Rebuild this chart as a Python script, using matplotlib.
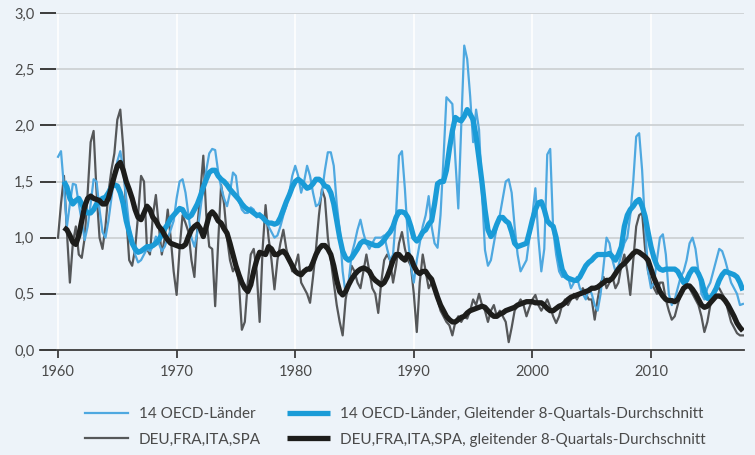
import numpy as np
import matplotlib
matplotlib.use("Agg")
import matplotlib.pyplot as plt

# Quarterly values, 1960Q1 .. 2017Q4
start_year = 1960

oecd14 = [
    1.72, 1.77, 1.45, 1.10,  1.30, 1.48, 1.47, 1.30,  1.15, 0.98, 1.10, 1.30,  1.52, 1.50, 1.25, 1.05,
    1.00, 1.15, 1.35, 1.55,  1.68, 1.77, 1.60, 1.35,  1.10, 0.95, 0.85, 0.78,  0.80, 0.85, 0.90, 0.88,
    0.92, 1.01, 0.95, 0.88,  0.92, 1.00, 1.07, 1.15,  1.35, 1.50, 1.52, 1.40,  1.20, 1.00, 0.92, 1.05,
    1.25, 1.45, 1.60, 1.75,  1.79, 1.78, 1.59, 1.45,  1.35, 1.28, 1.40, 1.58,  1.55, 1.33, 1.25, 1.22,
    1.22, 1.27, 1.25, 1.18,  1.22, 1.18, 1.15, 1.10,  1.05, 1.00, 1.02, 1.10,  1.20, 1.28, 1.40, 1.55,
    1.64, 1.55, 1.40, 1.50,  1.64, 1.55, 1.40, 1.28,  1.30, 1.40, 1.60, 1.76,  1.76, 1.64, 1.30, 1.07,
    0.70, 0.50, 0.60, 0.85,  0.95, 1.07, 1.16, 1.04,  0.95, 0.90, 0.95, 1.00,  1.00, 1.00, 1.02, 0.90,
    0.80, 0.85, 1.20, 1.73,  1.77, 1.43, 1.00, 0.75,  0.60, 0.80, 0.95, 1.10,  1.20, 1.37, 1.10, 0.95,
    0.91, 1.20, 1.70, 2.25,  2.22, 2.19, 1.70, 1.26,  2.00, 2.71, 2.59, 2.26,  1.85, 2.14, 1.96, 1.40,
    0.89, 0.75, 0.80, 0.95,  1.10, 1.20, 1.35, 1.50,  1.52, 1.40, 1.10, 0.85,  0.70, 0.75, 0.80, 1.00,
    1.20, 1.44, 1.00, 0.70,  0.90, 1.74, 1.79, 1.07,  0.85, 0.70, 0.65, 0.70,  0.65, 0.55, 0.60, 0.65,
    0.55, 0.50, 0.45, 0.55,  0.50, 0.40, 0.35, 0.50,  0.75, 1.00, 0.95, 0.80,  0.70, 0.75, 0.85, 0.95,
    1.00, 1.20, 1.50, 1.90,  1.93, 1.60, 1.10, 0.70,  0.55, 0.60, 0.80, 1.00,  1.03, 0.85, 0.50, 0.40,
    0.45, 0.55, 0.65, 0.70,  0.80, 0.95, 1.00, 0.90,  0.70, 0.50, 0.45, 0.55,  0.60, 0.70, 0.80, 0.90,
    0.88, 0.80, 0.70, 0.60,  0.55, 0.50, 0.40, 0.41,
]

oecd14_ma = [
    np.nan, np.nan, 1.50, 1.45,  1.35, 1.30, 1.33, 1.35,  1.30, 1.25, 1.22, 1.22,  1.25, 1.30, 1.33, 1.35,
    1.36, 1.40, 1.45, 1.47,  1.46, 1.40, 1.30, 1.15,  1.05, 0.95, 0.90, 0.87,  0.88, 0.90, 0.92, 0.92,
    0.93, 0.95, 0.98, 1.03,  1.08, 1.12, 1.17, 1.20,  1.23, 1.26, 1.25, 1.20,  1.18, 1.20, 1.25, 1.30,
    1.37, 1.45, 1.52, 1.58,  1.60, 1.60, 1.55, 1.52,  1.50, 1.47, 1.43, 1.40,  1.37, 1.34, 1.30, 1.27,
    1.25, 1.24, 1.22, 1.20,  1.20, 1.18, 1.15, 1.13,  1.13, 1.12, 1.13, 1.18,  1.25, 1.32, 1.38, 1.45,
    1.50, 1.52, 1.50, 1.47,  1.44, 1.45, 1.48, 1.52,  1.52, 1.50, 1.46, 1.45,  1.40, 1.30, 1.15, 1.00,
    0.88, 0.82, 0.80, 0.82,  0.86, 0.90, 0.95, 0.97,  0.96, 0.95, 0.94, 0.93,  0.93, 0.95, 0.98, 1.02,
    1.05, 1.10, 1.18, 1.23,  1.23, 1.22, 1.18, 1.10,  1.00, 0.97, 1.00, 1.05,  1.07, 1.12, 1.15, 1.30,
    1.48, 1.50, 1.50, 1.60,  1.79, 1.95, 2.07, 2.05,  2.04, 2.08, 2.14, 2.10,  2.05, 1.90, 1.70, 1.49,
    1.25, 1.07, 1.01, 1.05,  1.12, 1.18, 1.18, 1.15,  1.13, 1.05, 0.95, 0.92,  0.93, 0.94, 0.95, 1.05,
    1.16, 1.25, 1.31, 1.32,  1.25, 1.15, 1.12, 1.10,  1.00, 0.85, 0.72, 0.66,  0.64, 0.63, 0.62, 0.62,
    0.65, 0.70, 0.75, 0.78,  0.80, 0.83, 0.85, 0.85,  0.85, 0.85, 0.86, 0.83,  0.80, 0.85, 0.92, 1.10,
    1.20, 1.25, 1.28, 1.32,  1.34, 1.28, 1.19, 1.05,  0.92, 0.82, 0.75, 0.72,  0.71, 0.72, 0.72, 0.72,
    0.72, 0.70, 0.65, 0.60,  0.62, 0.68, 0.72, 0.72,  0.68, 0.62, 0.52, 0.46,  0.46, 0.50, 0.55, 0.62,
    0.67, 0.70, 0.69, 0.68,  0.67, 0.65, 0.60, 0.53,
]

big4 = [
    1.00, 1.30, 1.55, 1.05,  0.60, 0.95, 1.10, 0.85,  0.82, 1.00, 1.40, 1.85,  1.95, 1.40, 1.00, 0.90,
    1.10, 1.40, 1.60, 1.75,  2.05, 2.14, 1.80, 1.20,  0.80, 0.75, 0.90, 1.20,  1.55, 1.50, 0.90, 0.85,
    1.20, 1.38, 1.10, 0.85,  1.00, 1.25, 1.00, 0.70,  0.49, 0.90, 1.20, 1.13,  1.05, 0.80, 0.65, 1.10,
    1.40, 1.73, 1.20, 0.92,  0.90, 0.39, 0.95, 1.47,  1.30, 1.00, 0.80, 0.70,  0.75, 0.60, 0.18, 0.25,
    0.60, 0.85, 0.90, 0.70,  0.25, 0.90, 1.29, 1.00,  0.80, 0.54, 0.80, 0.95,  1.07, 0.90, 0.80, 0.70,
    0.75, 0.85, 0.60, 0.55,  0.50, 0.42, 0.65, 0.90,  1.20, 1.43, 1.35, 1.00,  0.80, 0.60, 0.40, 0.25,
    0.13, 0.45, 0.60, 0.75,  0.70, 0.60, 0.55, 0.70,  0.85, 0.70, 0.55, 0.50,  0.33, 0.60, 0.80, 0.85,
    0.80, 0.60, 0.75, 0.95,  1.05, 0.90, 0.80, 0.75,  0.50, 0.16, 0.60, 0.85,  0.70, 0.55, 0.60, 0.55,
    0.45, 0.35, 0.30, 0.25,  0.22, 0.13, 0.25, 0.30,  0.25, 0.30, 0.28, 0.35,  0.45, 0.40, 0.50, 0.40,
    0.35, 0.25, 0.35, 0.40,  0.30, 0.35, 0.30, 0.25,  0.07, 0.20, 0.35, 0.40,  0.45, 0.40, 0.30, 0.38,
    0.45, 0.49, 0.40, 0.35,  0.40, 0.45, 0.38, 0.30,  0.24, 0.30, 0.40, 0.45,  0.40, 0.45, 0.50, 0.45,
    0.50, 0.55, 0.50, 0.45,  0.45, 0.27, 0.45, 0.60,  0.65, 0.55, 0.60, 0.65,  0.55, 0.60, 0.75, 0.85,
    0.70, 0.49, 0.80, 1.10,  1.20, 1.22, 0.90, 0.70,  0.60, 0.55, 0.50, 0.60,  0.60, 0.45, 0.35, 0.27,
    0.30, 0.40, 0.50, 0.55,  0.60, 0.55, 0.50, 0.45,  0.40, 0.30, 0.16, 0.25,  0.40, 0.50, 0.55, 0.55,
    0.50, 0.45, 0.35, 0.25,  0.20, 0.15, 0.13, 0.13,
]

big4_ma = [
    np.nan, np.nan, 1.09, 1.07,  1.02, 0.96, 0.94, 1.02,  1.15, 1.28, 1.35, 1.37,  1.35, 1.34, 1.33, 1.30,
    1.30, 1.35, 1.45, 1.55,  1.64, 1.67, 1.60, 1.50,  1.43, 1.35, 1.25, 1.18,  1.16, 1.22, 1.28, 1.25,
    1.18, 1.15, 1.10, 1.07,  1.02, 0.98, 0.95, 0.94,  0.93, 0.92, 0.92, 0.94,  1.01, 1.07, 1.10, 1.12,
    1.08, 1.01, 1.10, 1.20,  1.23, 1.20, 1.15, 1.13,  1.08, 1.04, 0.95, 0.85,  0.75, 0.67, 0.60, 0.55,
    0.52, 0.58, 0.70, 0.80,  0.87, 0.86, 0.85, 0.92,  0.90, 0.85, 0.85, 0.87,  0.88, 0.85, 0.80, 0.75,
    0.70, 0.68, 0.67, 0.70,  0.72, 0.72, 0.78, 0.85,  0.90, 0.93, 0.93, 0.90,  0.85, 0.75, 0.62, 0.52,
    0.49, 0.52, 0.58, 0.63,  0.67, 0.70, 0.72, 0.73,  0.72, 0.70, 0.65, 0.62,  0.60, 0.58, 0.60, 0.65,
    0.72, 0.80, 0.85, 0.85,  0.82, 0.80, 0.85, 0.82,  0.75, 0.70, 0.68, 0.70,  0.70, 0.66, 0.63, 0.55,
    0.47, 0.40, 0.35, 0.30,  0.27, 0.25, 0.25, 0.27,  0.29, 0.30, 0.33, 0.35,  0.36, 0.37, 0.38, 0.39,
    0.38, 0.35, 0.32, 0.30,  0.30, 0.32, 0.33, 0.35,  0.36, 0.37, 0.38, 0.40,  0.41, 0.42, 0.43, 0.43,
    0.43, 0.42, 0.42, 0.42,  0.40, 0.37, 0.35, 0.35,  0.37, 0.39, 0.40, 0.42,  0.45, 0.47, 0.48, 0.49,
    0.50, 0.51, 0.52, 0.53,  0.55, 0.55, 0.56, 0.58,  0.60, 0.62, 0.62, 0.64,  0.68, 0.72, 0.75, 0.77,
    0.80, 0.83, 0.86, 0.88,  0.87, 0.85, 0.83, 0.80,  0.72, 0.64, 0.58, 0.52,  0.48, 0.45, 0.44, 0.44,
    0.43, 0.45, 0.50, 0.55,  0.57, 0.57, 0.54, 0.50,  0.45, 0.40, 0.38, 0.39,  0.42, 0.45, 0.48, 0.48,
    0.47, 0.44, 0.40, 0.35,  0.30, 0.24, 0.20, 0.17,
]

labels = [
    "14 OECD-Länder",
    "14 OECD-Länder, Gleitender 8-Quartals-Durchschnitt",
    "DEU,FRA,ITA,SPA",
    "DEU,FRA,ITA,SPA, gleitender 8-Quartals-Durchschnitt",
]
y_ticks = [0.0, 0.5, 1.0, 1.5, 2.0, 2.5, 3.0]
y_ticklabels = ["0,0", "0,5", "1,0", "1,5", "2,0", "2,5", "3,0"]
x_ticks = [1960, 1970, 1980, 1990, 2000, 2010]

t = start_year + np.arange(len(oecd14)) * 0.25

BG = "#edf3f9"
LIGHT_BLUE = "#4ea8e0"
BLUE = "#1a9bd7"
GREY = "#555759"
BLACK = "#1d1d1b"
TEXT = "#4a4a4a"

plt.rcParams["font.family"] = ["Lato", "DejaVu Sans"]

fig = plt.figure(figsize=(7.55, 4.55), dpi=100, facecolor=BG)
ax = fig.add_axes([40 / 755, 1 - 350 / 455, 704 / 755, 337 / 455], facecolor=BG)

l1, = ax.plot(t, oecd14, color=LIGHT_BLUE, lw=1.6, solid_joinstyle="round", zorder=3)
l3, = ax.plot(t, big4, color=GREY, lw=1.6, solid_joinstyle="round", zorder=2)
l2, = ax.plot(t, oecd14_ma, color=BLUE, lw=3.8, solid_capstyle="butt", solid_joinstyle="round", zorder=4)
l4, = ax.plot(t, big4_ma, color=BLACK, lw=3.8, solid_capstyle="butt", solid_joinstyle="round", zorder=5)

ax.set_xlim(1958.48, 2017.84)
ax.set_ylim(0, 3.0)

ax.set_yticks(y_ticks)
ax.set_yticklabels(y_ticklabels)
ax.set_xticks(x_ticks)
ax.set_xticklabels([str(x) for x in x_ticks])

for v in y_ticks[1:]:
    ax.axhline(v, color="#cdd1d4", lw=1.3, zorder=1)
for x in x_ticks:
    ax.axvline(x, color="white", lw=1.2, zorder=0.5)

for s in ["top", "right", "left"]:
    ax.spines[s].set_visible(False)
ax.spines["bottom"].set_color("#3c3c3c")
ax.spines["bottom"].set_linewidth(1.3)
ax.spines["bottom"].set_zorder(6)

ax.tick_params(axis="y", direction="in", length=11.5, width=1.4, color="#3c3c3c",
               labelsize=10.5, labelcolor=TEXT, pad=4)
ax.tick_params(axis="x", direction="out", length=6, width=1.3, color="#3c3c3c",
               labelsize=10.5, labelcolor=TEXT, pad=5)

# matplotlib fills legend columns first, so order handles to read row by row
fig.legend([l1, l3, l2, l4], [labels[0], labels[2], labels[1], labels[3]],
           ncol=2, loc="lower left", bbox_to_anchor=(73 / 755, -4 / 455),
           frameon=False, fontsize=11, labelcolor=TEXT, handlelength=2.8,
           handletextpad=0.7, columnspacing=1.7, labelspacing=0.75,
           borderpad=0.3)

fig.savefig("out.png", dpi=100, facecolor=BG)
